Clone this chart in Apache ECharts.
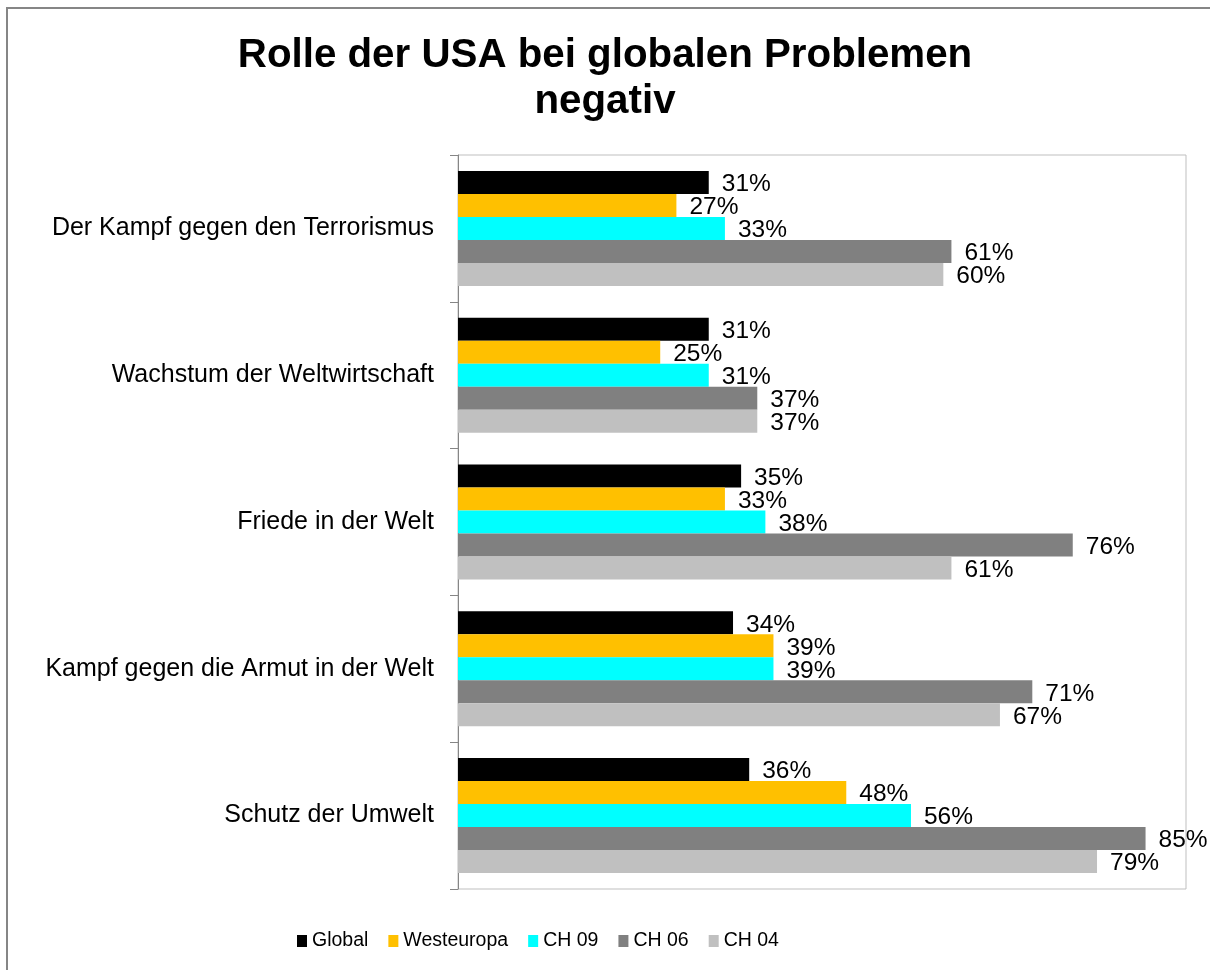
<!DOCTYPE html>
<html>
<head>
<meta charset="utf-8">
<script src="https://cdn.jsdelivr.net/npm/echarts@6/dist/echarts.min.js"></script>
<style>
  html, body { margin: 0; padding: 0; background: #fff; }
  #chart { width: 1210px; height: 970px; }
</style>
</head>
<body>
<div id="chart"></div>
<script>
// Daten (Prozent, negativ)
const categories = [
  "Der Kampf gegen den Terrorismus",
  "Wachstum der Weltwirtschaft",
  "Friede in der Welt",
  "Kampf gegen die Armut in der Welt",
  "Schutz der Umwelt"
];
const seriesNames = ["Global", "Westeuropa", "CH 09", "CH 06", "CH 04"];
const global = [31, 31, 35, 34, 36];
const westeuropa = [27, 25, 33, 39, 48];
const ch09 = [33, 31, 38, 39, 56];
const ch06 = [61, 37, 76, 71, 85];
const ch04 = [60, 37, 61, 67, 79];

const colors = ["#000000", "#ffc000", "#00ffff", "#808080", "#c0c0c0"];
const values = [global, westeuropa, ch09, ch06, ch04];

const chart = echarts.init(document.getElementById("chart"));

let series = seriesNames.map((name, i) => {
  return {
    name: name,
    type: "bar",
    data: values[i],
    barWidth: 23,
    barGap: "0%",
    itemStyle: { color: colors[i] },
    label: {
      show: true,
      position: "right",
      distance: 13,
      offset: [0, 2],
      formatter: "{c}%",
      color: "#000",
      fontFamily: "Liberation Sans",
      fontSize: 24.5
    }
  };
});

let option = {
  animation: false,
  backgroundColor: "#fff",
  graphic: [{
    type: "rect",
    shape: { x: 7, y: 8, width: 1230, height: 990 },
    style: { fill: "none", stroke: "#868686", lineWidth: 2 },
    silent: true
  }],
  title: {
    text: "Rolle der USA bei globalen Problemen\nnegativ",
    left: "center",
    top: 28,
    padding: [5, 0, 5, 10],
    textStyle: {
      fontFamily: "Liberation Sans",
      fontWeight: "bold",
      fontSize: 40.3,
      lineHeight: 46,
      color: "#000"
    }
  },
  legend: {
    data: seriesNames,
    top: 931,
    left: 297,
    padding: 0,
    icon: "rect",
    itemWidth: 10,
    itemHeight: 12,
    itemGap: 20,
    textStyle: {
      fontFamily: "Liberation Sans",
      fontSize: 19.5,
      color: "#000"
    }
  },
  grid: {
    left: 458,
    top: 155,
    width: 728,
    height: 734,
    show: true,
    borderColor: "#bfbfbf",
    borderWidth: 1
  },
  xAxis: {
    type: "value",
    min: 0,
    max: 90,
    axisLabel: { show: false },
    axisLine: { show: false },
    axisTick: { show: false },
    splitLine: { show: false }
  },
  yAxis: {
    type: "category",
    data: categories,
    inverse: true,
    axisLine: { show: true, lineStyle: { color: "#868686", width: 1 } },
    axisTick: { show: true, length: 8, lineStyle: { color: "#868686" } },
    axisLabel: {
      margin: 24,
      fontFamily: "Liberation Sans",
      fontSize: 25,
      color: "#000"
    },
    splitLine: { show: false }
  },
  series: series
};

chart.setOption(option);
</script>
</body>
</html>
